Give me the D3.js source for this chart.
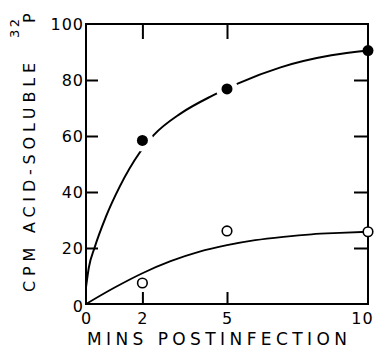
<!DOCTYPE html>
<html>
<head>
<meta charset="utf-8">
<script src="https://cdn.jsdelivr.net/npm/d3@7"></script>
<style>
  body { margin: 0; background: #fff; }
  svg { display: block; font-family: "DejaVu Sans", sans-serif; }
</style>
</head>
<body>
<div id="chart"></div>
<script>
// tick values
const timeTicks = [0, 2, 5, 10];
const cpmTicks = [0, 20, 40, 60, 80, 100];

// measured points
const times = [2, 5, 10];
const filledCpm = [58.4, 76.8, 90.5];
const openCpm = [7.5, 26.1, 25.8];

// hand drawn curves
const upperFitT = [0, 0.1, 0.3, 0.7, 1.2, 1.9, 2.4, 3.35, 4.5, 5.4, 6.9, 8.7, 10];
const upperFitCpm = [6, 13, 20, 31, 42, 54, 60.3, 68, 74.5, 78.8, 84.5, 88.8, 90.5];
const lowerFitT = [0, 1, 2, 3, 4, 5, 6, 7, 8, 9, 10];
const lowerFitCpm = [0, 5.8, 11, 15.3, 18.6, 21, 22.8, 24, 24.9, 25.4, 25.8];

const width = 377,
  height = 347;
let margin = {"top": 24, "bottom": 43, "left": 86, "right": 9};

let x = d3.scaleLinear()
  .domain([0, 10])
  .range([margin.left, width - margin.right]);

let y = d3.scaleLinear()
  .domain([0, 100])
  .range([height - margin.bottom, margin.top]);

const svg = d3.select("#chart")
  .append("svg")
  .attr("width", width)
  .attr("height", height);

// frame
svg.append("rect")
  .attr("x", x(0))
  .attr("y", y(100))
  .attr("width", x(10) - x(0))
  .attr("height", y(0) - y(100))
  .attr("fill", "none")
  .attr("stroke", "#000")
  .attr("stroke-width", 2);

let yAxis = d3.axisLeft(y).tickValues(cpmTicks).tickSizeInner(-12).tickSizeOuter(0).tickPadding(2);
let xAxis = d3.axisBottom(x).tickValues(timeTicks).tickSizeInner(-12).tickSizeOuter(0).tickPadding(9);

const gy = svg.append("g")
  .attr("transform", "translate(" + x(0) + ",0)")
  .call(yAxis);

const gx = svg.append("g")
  .attr("transform", "translate(0," + y(0) + ")")
  .call(xAxis);

// inner ticks on top and right
svg.append("g")
  .attr("transform", "translate(0," + y(100) + ")")
  .call(d3.axisTop(x).tickValues(timeTicks.slice(1, -1)).tickSizeInner(-15).tickSizeOuter(0).tickFormat(""));

svg.append("g")
  .attr("transform", "translate(" + x(10) + ",0)")
  .call(d3.axisRight(y).tickValues(cpmTicks.slice(1, -1)).tickSizeInner(-14).tickSizeOuter(0).tickFormat(""));

svg.selectAll(".domain").remove();
svg.selectAll(".tick line")
  .attr("stroke", "#000")
  .attr("stroke-width", 2);
// ticks at the frame corners are part of the frame already
gy.selectAll(".tick").filter((d) => d == 0 || d == 100).select("line").remove();
gx.selectAll(".tick").filter((d) => d == 0 || d == 10).select("line").remove();

svg.selectAll(".tick text")
  .attr("font-family", "DejaVu Sans, sans-serif")
  .attr("font-size", 16)
  .attr("letter-spacing", 1)
  .attr("fill", "#000");
gx.selectAll(".tick").filter((d) => d == 10).select("text").attr("dx", -6);
gy.selectAll(".tick").filter((d) => d == 0).select("text").attr("dy", "0.45em");

// curves
const line = d3.line()
  .x((d) => x(d[0]))
  .y((d) => y(d[1]))
  .curve(d3.curveMonotoneX);

svg.append("path")
  .datum(upperFitT.map((t, i) => [t, upperFitCpm[i]]))
  .attr("d", line)
  .attr("fill", "none")
  .attr("stroke", "#000")
  .attr("stroke-width", 2);

svg.append("path")
  .datum(lowerFitT.map((t, i) => [t, lowerFitCpm[i]]))
  .attr("d", line)
  .attr("fill", "none")
  .attr("stroke", "#000")
  .attr("stroke-width", 1.8);

// the drawn line breaks around the filled points
svg.selectAll("circle.halo")
  .data(times.filter((t) => t < 10))
  .enter()
  .append("circle")
  .attr("class", "halo")
  .attr("cx", (d) => x(d))
  .attr("cy", (d) => y(filledCpm[times.indexOf(d)]))
  .attr("r", 11)
  .attr("fill", "#fff");

svg.selectAll("circle.filled")
  .data(times)
  .enter()
  .append("circle")
  .attr("class", "filled")
  .attr("cx", (d) => x(d))
  .attr("cy", (d, i) => y(filledCpm[i]))
  .attr("r", 5.5)
  .attr("fill", "#000");

svg.selectAll("circle.open")
  .data(times)
  .enter()
  .append("circle")
  .attr("class", "open")
  .attr("cx", (d) => x(d))
  .attr("cy", (d, i) => y(openCpm[i]))
  .attr("r", 4.8)
  .attr("fill", "#fff")
  .attr("stroke", "#000")
  .attr("stroke-width", 1.6);

// axis titles
svg.append("text")
  .text("MINS POSTINFECTION")
  .attr("x", 217)
  .attr("y", 344.5)
  .attr("text-anchor", "middle")
  .attr("textLength", 260)
  .attr("lengthAdjust", "spacing")
  .style("font-size", 17);

const ytitle = svg.append("g")
  .attr("transform", "translate(35,0) rotate(-90)");

ytitle.append("text")
  .text("CPM ACID-SOLUBLE")
  .attr("x", -177.5)
  .attr("y", 0)
  .attr("text-anchor", "middle")
  .attr("textLength", 229)
  .attr("lengthAdjust", "spacing")
  .style("font-size", 16);

ytitle.append("text")
  .text("32")
  .attr("x", -38)
  .attr("y", -16)
  .attr("letter-spacing", 2.5)
  .style("font-size", 13);

ytitle.append("text")
  .text("P")
  .attr("x", -23)
  .attr("y", 0)
  .style("font-size", 16);
</script>
</body>
</html>
